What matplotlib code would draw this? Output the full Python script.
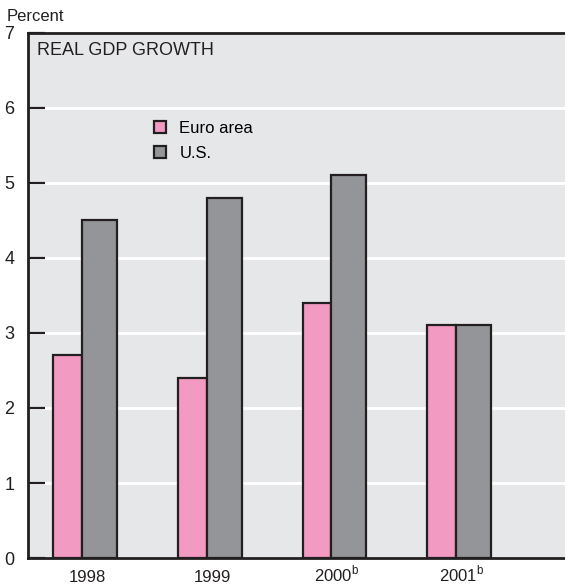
import matplotlib.pyplot as plt
import matplotlib.transforms as mtransforms
import numpy as np

plt.rcParams['font.family'] = ['Liberation Sans Narrow', 'Liberation Sans', 'DejaVu Sans']
plt.rcParams['mathtext.fontset'] = 'custom'
plt.rcParams['mathtext.rm'] = 'Liberation Sans'

# Data
years = ['1998', '1999', '2000$^{\\mathrm{b}}$', '2001$^{\\mathrm{b}}$']
euro_area = [2.7, 2.4, 3.4, 3.1]
us = [4.5, 4.8, 5.1, 3.1]

pink = '#f39ac2'
grey = '#939598'
dark = '#231f20'
bg = '#e6e7e8'

fig = plt.figure(figsize=(5.65, 5.87), dpi=100)
ax = fig.add_axes([0.0496, 0.0494, 0.9504, 0.8944])
ax.set_facecolor(bg)

x = np.arange(len(years))
ax.bar(x, euro_area, width=-0.23, align='edge', color=pink, edgecolor=dark,
       linewidth=1.6, zorder=3, label='Euro area')
ax.bar(x, us, width=0.28, align='edge', color=grey, edgecolor=dark,
       linewidth=1.6, zorder=3, label='U.S.')

ax.set_xlim(-0.433, 3.873)
ax.set_ylim(0, 7)
ax.set_yticks(range(0, 8))
ax.yaxis.grid(True, color='white', linewidth=2, zorder=1)
ax.set_axisbelow(True)

# x labels drawn on a shared baseline so the superscripts don't shift them
ax.set_xticks([])
trans = mtransforms.blended_transform_factory(ax.transData, ax.transAxes)
for xi, lab in zip(x, years):
    ax.text(xi + 0.045, -0.045, lab, transform=trans, ha='center', va='baseline',
            fontsize=12, color='#231f20')

ax.tick_params(axis='y', direction='in', length=12, width=1.6, color=dark,
               labelsize=13, pad=10, labelcolor='#231f20')

for s in ['left', 'top', 'bottom']:
    ax.spines[s].set_linewidth(2)
    ax.spines[s].set_color(dark)
ax.spines['right'].set_visible(False)

fig.text(0.012, 0.972, 'Percent', fontsize=12, va='center', ha='left', color='#231f20')
ax.text(0.017, 0.966, 'REAL GDP GROWTH', transform=ax.transAxes, fontsize=13,
        va='center', ha='left', color='#231f20')

leg = ax.legend(loc='upper left', bbox_to_anchor=(0.206, 0.861), frameon=False,
                fontsize=12, handlelength=0.75, handleheight=0.75,
                handletextpad=0.8, labelspacing=0.6)

fig.savefig('out.png', dpi=100)
